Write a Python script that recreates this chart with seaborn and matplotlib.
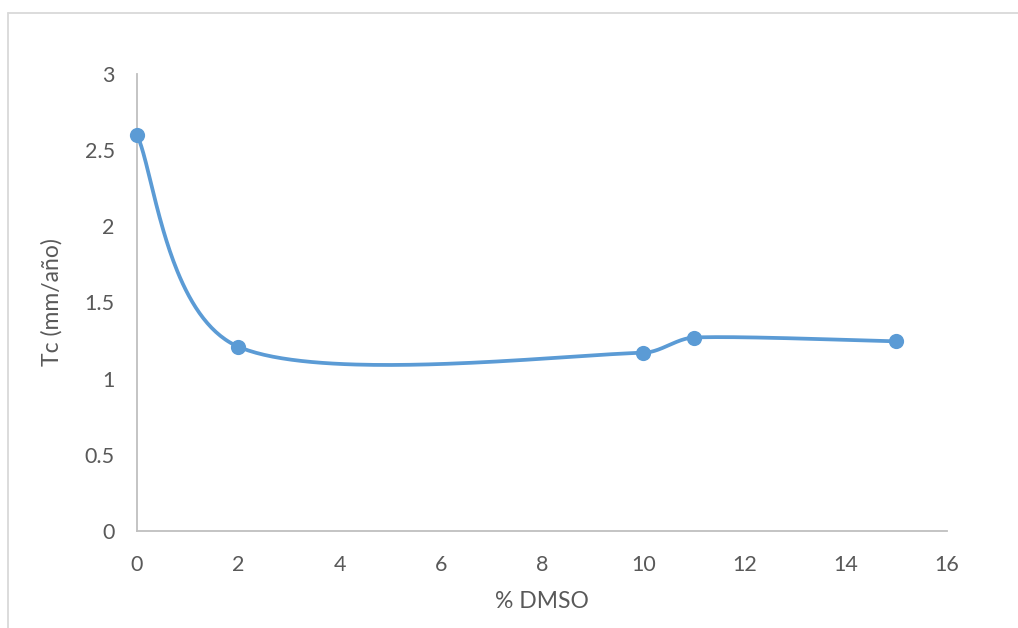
import numpy as np
import pandas as pd
import matplotlib
matplotlib.use("Agg")
import matplotlib.pyplot as plt
from matplotlib.lines import Line2D
import seaborn as sns

# Corrosion rate versus DMSO content
dmso = [0, 2, 10, 11, 15]
tc = [2.60, 1.21, 1.17, 1.27, 1.245]
x_ticks = [0, 2, 4, 6, 8, 10, 12, 14, 16]
y_ticks = [0, 0.5, 1, 1.5, 2, 2.5, 3]
y_tick_labels = ["0", "0.5", "1", "1.5", "2", "2.5", "3"]

sns.set_theme(style="white")
plt.rcParams["font.family"] = ["Lato", "DejaVu Sans"]

W, H, DPI = 1018, 628, 100
fig = plt.figure(figsize=(W / DPI, H / DPI), dpi=DPI)
ax = fig.add_axes([137 / W, (H - 531) / H, 810 / W, 457 / H])
ax.set_xlim(0, 16)
ax.set_ylim(0, 3)

blue = "#5B9BD5"
grey_txt = "#595959"


def smooth_curve(ax, xs, ys, n=80):
    """Bezier smoothing in display space, control arms capped by segment length."""
    fig.canvas.draw()
    pts = ax.transData.transform(np.column_stack([xs, ys]))
    m = len(pts)
    out = []

    def cap(v, limit):
        L = np.hypot(*v)
        return v if L <= limit or L == 0 else v * (limit / L)

    for i in range(m - 1):
        p0 = pts[max(i - 1, 0)]
        p1 = pts[i]
        p2 = pts[i + 1]
        p3 = pts[min(i + 2, m - 1)]
        seg_len = np.hypot(*(p2 - p1))
        c1 = p1 + cap((p2 - p0) / 6.0, seg_len / 3.0)
        c2 = p2 - cap((p3 - p1) / 6.0, seg_len / 3.0)
        t = np.linspace(0, 1, n)[:, None]
        seg = ((1 - t) ** 3) * p1 + 3 * ((1 - t) ** 2) * t * c1 + 3 * (1 - t) * t ** 2 * c2 + t ** 3 * p2
        out.append(seg if i == 0 else seg[1:])
    disp = np.vstack(out)
    return ax.transData.inverted().transform(disp)


curve = smooth_curve(ax, dmso, tc)
curve_df = pd.DataFrame({"x": curve[:, 0], "y": curve[:, 1]})
sns.lineplot(data=curve_df, x="x", y="y", sort=False, color=blue, linewidth=2.7,
             ax=ax, zorder=2)

pts_df = pd.DataFrame({"dmso": dmso, "tc": tc})
sns.scatterplot(data=pts_df, x="dmso", y="tc", color=blue, s=120, edgecolor=blue,
                linewidth=0, ax=ax, zorder=3, clip_on=False)

ax.set_xlim(0, 16)
ax.set_ylim(0, 3)
ax.set_xticks(x_ticks)
ax.set_xticklabels([str(v) for v in x_ticks])
ax.set_yticks(y_ticks)
ax.set_yticklabels(y_tick_labels)
ax.tick_params(axis="both", length=0, labelsize=15.5, labelcolor=grey_txt)
ax.tick_params(axis="y", pad=16)
ax.tick_params(axis="x", pad=17)

for side in ["top", "right"]:
    ax.spines[side].set_visible(False)
for side in ["left", "bottom"]:
    ax.spines[side].set_color("#BFBFBF")
    ax.spines[side].set_linewidth(1.3)

ax.set_xlabel("% DMSO", fontsize=16.5, color=grey_txt, labelpad=12)
ax.set_ylabel("Tc (mm/año)", fontsize=16.5, color=grey_txt, labelpad=16)
ax.grid(False)

# Chart area frame
frame_kw = dict(color="#D9D9D9", linewidth=1.3, transform=fig.transFigure)
fig.add_artist(Line2D([7.5 / W, 1.0], [1 - 12.5 / H, 1 - 12.5 / H], **frame_kw))
fig.add_artist(Line2D([7.5 / W, 7.5 / W], [0.0, 1 - 12.5 / H], **frame_kw))

fig.savefig("out.png", dpi=DPI)
